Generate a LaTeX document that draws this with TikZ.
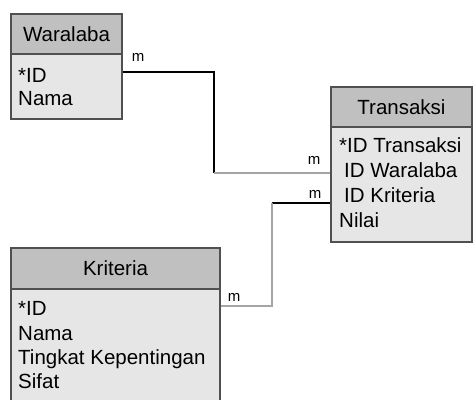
\documentclass[tikz,border=0pt]{standalone}
\usepackage{fontspec}
\setmainfont{Liberation Sans}
\usetikzlibrary{calc,positioning}
\definecolor{headgray}{RGB}{192,192,192}
\definecolor{bodygray}{RGB}{230,230,230}
\definecolor{boxline}{RGB}{80,80,80}
\definecolor{linkgray}{RGB}{165,165,165}

\begin{document}
\begin{tikzpicture}[x=1pt,y=-1pt]
	\tikzstyle{every node}=[font=\fontsize{20.5}{24}\selectfont, inner sep=0pt]
	\tikzset{
		head/.style={draw=boxline, fill=headgray, line width=1.5pt},
		body/.style={draw=boxline, fill=bodygray, line width=1.5pt},
		attr/.style={anchor=base west},
		card/.style={font=\fontsize{15}{15}\selectfont},
		darklink/.style={line width=2.4pt, black},
		lightlink/.style={line width=1.6pt, linkgray}
	}
	\useasboundingbox (0,0) rectangle (473,399);
	\clip (0,0) rectangle (473,399);
	% Waralaba
	\node [body, minimum width=111pt, minimum height=65pt] (wbody) at (66.5,86.5) {};
	\node [head, minimum width=111pt, minimum height=40pt] (waralaba) at (66.5,34) {Waralaba};
	\node [attr] (w-id) at (18,82) {*ID};
	\node [attr] (w-nama) at (18,105) {Nama};
	% Transaksi
	\node [body, minimum width=141pt, minimum height=115pt] (tbody) at (401.5,184.5) {};
	\node [head, minimum width=141pt, minimum height=40pt] (transaksi) at (401.5,107) {Transaksi};
	\node [attr] (t-id) at (339,152) {*ID Transaksi};
	\node [attr] (t-war) at (344,177) {ID Waralaba};
	\node [attr] (t-kri) at (344,202) {ID Kriteria};
	\node [attr] (t-nilai) at (339,227) {Nilai};
	% Kriteria
	\node [body, minimum width=209pt, minimum height=116pt] (kbody) at (115.5,347) {};
	\node [head, minimum width=209pt, minimum height=41pt] (kriteria) at (115.5,268.5) {Kriteria};
	\node [attr] (k-id) at (18,315) {*ID};
	\node [attr] (k-nama) at (18,340) {Nama};
	\node [attr] (k-tingkat) at (18,364) {Tingkat Kepentingan};
	\node [attr] (k-sifat) at (18,388) {Sifat};
	% relasi
	\coordinate (w-out) at ($(wbody.north east)+(0,19)$);
	\coordinate (t-in1) at ($(tbody.north west)+(0,47)$);
	\coordinate (bend1) at ($(w-out)+(91,0)$);
	\coordinate (t-in2) at ($(tbody.north west)+(0,77)$);
	\coordinate (bend2) at ($(t-in2)+(-58,0)$);
	\coordinate (k-in) at ($(kbody.north east)+(0,18)$);
	\draw [darklink] (w-out) -| (bend1 |- t-in1);
	\draw [lightlink] (bend1 |- t-in1) -- (t-in1);
	\draw [darklink] (t-in2) -- (bend2);
	\draw [lightlink] (bend2) |- (k-in);
	\node [card] (m1) at (138,57) {m};
	\node [card] (m2) at (314,160) {m};
	\node [card] (m3) at (315,194) {m};
	\node [card] (m4) at (234,297) {m};
\end{tikzpicture}
\end{document}
